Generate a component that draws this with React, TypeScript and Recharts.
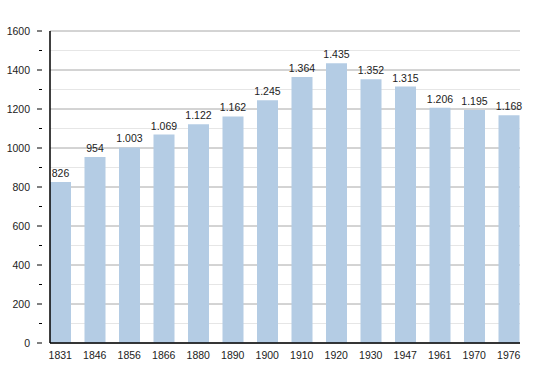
import { BarChart, Bar, XAxis, YAxis, CartesianGrid, LabelList } from "recharts";

const years = ["1831", "1846", "1856", "1866", "1880", "1890", "1900", "1910", "1920", "1930", "1947", "1961", "1970", "1976"];
const population = [826, 954, 1003, 1069, 1122, 1162, 1245, 1364, 1435, 1352, 1315, 1206, 1195, 1168];
const yTicks = [0, 100, 200, 300, 400, 500, 600, 700, 800, 900, 1000, 1100, 1200, 1300, 1400, 1500, 1600];
const majorTicks = yTicks.filter((t) => t % 200 === 0);
const minorTicks = yTicks.filter((t) => t % 200 !== 0);

const data = years.map((year, i) => ({ year, value: population[i] }));

const FONT = "'Liberation Sans', Arial, sans-serif";

const fmt = (v: number) => v.toLocaleString("de-DE");

const YTick = (props: any) => {
  const { x, y, payload } = props;
  const major = payload.value % 200 === 0;
  return (
    <g>
      <line x1={x - (major ? 5 : 3)} x2={x} y1={y} y2={y} stroke="#000" />
      {major && (
        <text x={x - 12} y={y} dy={4} textAnchor="end" fontSize={10.5} fill="#222" fontFamily={FONT}>
          {payload.value}
        </text>
      )}
    </g>
  );
};

const App = () => {
  return (
    <div style={{ position: "absolute", left: 0, top: 0, background: "#fff" }}>
      <BarChart width={550} height={373} data={data} margin={{ top: 31, right: 30, bottom: 0, left: 0 }} barSize={21}>
        <CartesianGrid vertical={false} horizontalValues={minorTicks} stroke="#e6e6e6" />
        <CartesianGrid vertical={false} horizontalValues={majorTicks} stroke="#a8a8a8" />
        <XAxis
          dataKey="year"
          height={30}
          padding={{ left: -7, right: -6 }}
          tickLine={false}
          axisLine={{ stroke: "#000", strokeWidth: 1.5 }}
          tick={{ fontSize: 10.5, fill: "#222", fontFamily: FONT }}
          tickMargin={3}
          interval={0}
        />
        <YAxis
          width={50}
          domain={[0, 1600]}
          ticks={yTicks}
          interval={0}
          tickLine={false}
          axisLine={{ stroke: "#000", strokeWidth: 1.5 }}
          tick={<YTick />}
        />
        <Bar dataKey="value" fill="#b4cce4" isAnimationActive={false}>
          <LabelList dataKey="value" position="top" formatter={(v: any) => fmt(Number(v))} style={{ fontSize: 10.5, fill: "#222", fontFamily: FONT }} />
        </Bar>
      </BarChart>
    </div>
  );
};

export default App;
